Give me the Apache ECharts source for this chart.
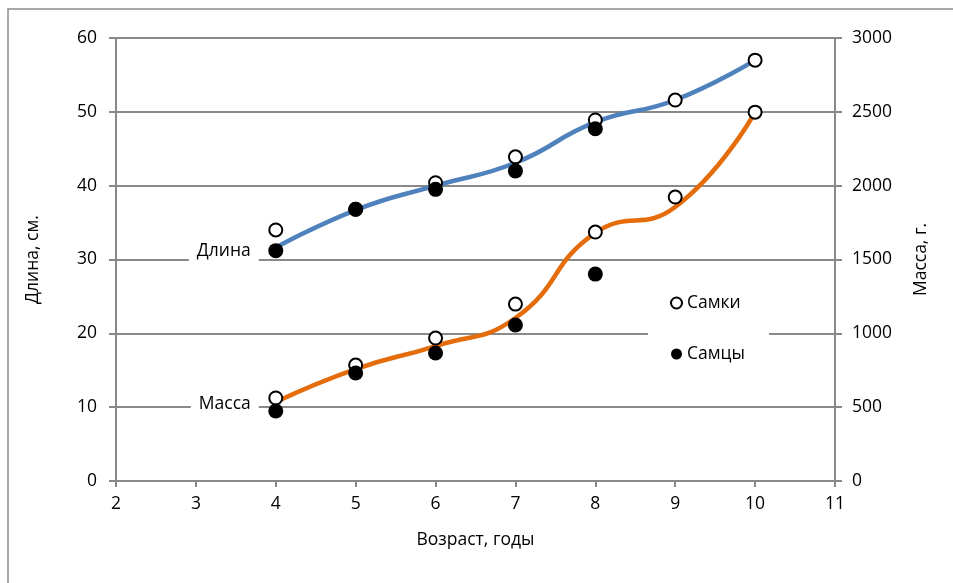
<!DOCTYPE html>
<html>
<head>
<meta charset="utf-8">
<script src="https://cdn.jsdelivr.net/npm/echarts@6/dist/echarts.min.js"></script>
<style>
  html, body { margin: 0; padding: 0; background: #fff; }
  #chart { width: 953px; height: 583px; }
</style>
</head>
<body>
<div id="chart"></div>
<script>
// Age in years
const ages = [4, 5, 6, 7, 8, 9, 10];

// Fitted growth curves
const lengthCurve = [31.6, 36.7, 40.0, 43.1, 48.6, 51.6, 57.0];   // cm
const massCurve   = [535, 758, 914, 1104, 1680, 1855, 2500];      // g

// Observed values, females
const femaleLength = [34.0, 36.8, 40.4, 43.9, 48.9, 51.6, 57.0];
const femaleMass   = [562, 785, 968, 1198, 1686, 1923, 2498];

// Observed values, males (no data beyond age 8)
const maleLength = [31.2, 36.8, 39.5, 42.0, 47.7];
const maleMass   = [474, 731, 867, 1056, 1401];

const FONT = 'Open Sans';
const FS = 17.5;
const GRID_COLOR = '#898989';

function pairs(xs, ys) {
  return ys.map((y, i) => [xs[i], y]);
}

// Curve points; the first one carries the curve's name as a boxed label
function curveData(xs, ys, labelText, dy) {
  return ys.map((y, i) => {
    const item = { value: [xs[i], y] };
    if (i === 0) {
      item.label = {
        show: true,
        formatter: labelText,
        position: 'left',
        distance: 17,
        offset: [0, dy],
        color: '#000',
        fontFamily: FONT,
        fontSize: FS,
        backgroundColor: '#fff',
        padding: [3, 8, 3, 8]
      };
    }
    return item;
  });
}

const chart = echarts.init(document.getElementById('chart'), null, { renderer: 'canvas' });

chart.setOption({
  backgroundColor: '#fff',
  animation: false,
  textStyle: { fontFamily: FONT, color: '#000' },
  graphic: [{
    type: 'rect',
    shape: { x: 8, y: 9, width: 980, height: 620 },
    style: { fill: 'none', stroke: '#8c8c8c', lineWidth: 1.5 },
    z: -1
  }],
  grid: { left: 116, right: 118, top: 38, bottom: 102 },
  legend: {
    orient: 'vertical',
    left: 648,
    top: 285,
    padding: [9, 24, 9, 22],
    backgroundColor: '#fff',
    itemWidth: 11,
    itemHeight: 11,
    itemGap: 33,
    textStyle: { fontFamily: FONT, fontSize: FS, color: '#000' },
    data: ['Самки', 'Самцы'],
    z: 10
  },
  xAxis: {
    type: 'value',
    min: 2, max: 11, interval: 1,
    name: 'Возраст, годы',
    nameLocation: 'middle',
    nameGap: 50,
    nameTextStyle: { fontFamily: FONT, fontSize: FS, color: '#000' },
    axisLine: { show: true, lineStyle: { color: GRID_COLOR, width: 2 } },
    axisTick: { show: true, inside: false, length: 6, lineStyle: { color: GRID_COLOR, width: 2 } },
    axisLabel: { margin: 14, fontFamily: FONT, fontSize: FS, color: '#000' },
    splitLine: { show: false }
  },
  yAxis: [{
    type: 'value',
    position: 'left',
    min: 0, max: 60, interval: 10,
    name: 'Длина, см.',
    nameLocation: 'middle',
    nameGap: 74,
    nameRotate: 90,
    nameTextStyle: { fontFamily: FONT, fontSize: FS, color: '#000' },
    axisLine: { show: true, lineStyle: { color: GRID_COLOR, width: 2 } },
    axisTick: { show: true, length: 7, lineStyle: { color: GRID_COLOR, width: 2 } },
    axisLabel: { margin: 19, fontFamily: FONT, fontSize: FS, color: '#000' },
    splitLine: { show: true, lineStyle: { color: GRID_COLOR, width: 2 } }
  }, {
    type: 'value',
    position: 'right',
    min: 0, max: 3000, interval: 500,
    name: 'Масса, г.',
    nameLocation: 'middle',
    nameGap: 77,
    nameRotate: 90,
    nameTextStyle: { fontFamily: FONT, fontSize: FS, color: '#000' },
    axisLine: { show: true, lineStyle: { color: GRID_COLOR, width: 2 } },
    axisTick: { show: true, length: 7, lineStyle: { color: GRID_COLOR, width: 2 } },
    axisLabel: { margin: 17, fontFamily: FONT, fontSize: FS, color: '#000', formatter: (v) => String(v) },
    splitLine: { show: false }
  }],
  series: [
    {
      name: 'Длина',
      type: 'line',
      yAxisIndex: 0,
      smooth: 0.5,
      showSymbol: true,
      symbol: 'circle',
      symbolSize: 0,
      lineStyle: { color: '#4F81BD', width: 4.5 },
      itemStyle: { color: '#4F81BD' },
      data: curveData(ages, lengthCurve, 'Длина', 3),
      z: 2
    },
    {
      name: 'Масса',
      type: 'line',
      yAxisIndex: 1,
      smooth: 0.5,
      showSymbol: true,
      symbol: 'circle',
      symbolSize: 0,
      lineStyle: { color: '#E46C0A', width: 4.5 },
      itemStyle: { color: '#E46C0A' },
      data: curveData(ages, massCurve, 'Масса', 2),
      z: 2
    },
    {
      name: 'Самки',
      type: 'scatter',
      yAxisIndex: 0,
      symbol: 'circle',
      symbolSize: 13,
      itemStyle: { color: '#fff', borderColor: '#000', borderWidth: 2, opacity: 1 },
      data: pairs(ages, femaleLength),
      z: 3
    },
    {
      name: 'Самки',
      type: 'scatter',
      yAxisIndex: 1,
      symbol: 'circle',
      symbolSize: 13,
      itemStyle: { color: '#fff', borderColor: '#000', borderWidth: 2, opacity: 1 },
      data: pairs(ages, femaleMass),
      z: 3
    },
    {
      name: 'Самцы',
      type: 'scatter',
      yAxisIndex: 0,
      symbol: 'circle',
      symbolSize: 15,
      itemStyle: { color: '#000', opacity: 1 },
      data: pairs(ages, maleLength),
      z: 4
    },
    {
      name: 'Самцы',
      type: 'scatter',
      yAxisIndex: 1,
      symbol: 'circle',
      symbolSize: 15,
      itemStyle: { color: '#000', opacity: 1 },
      data: pairs(ages, maleMass),
      z: 4
    }
  ]
});
</script>
</body>
</html>
